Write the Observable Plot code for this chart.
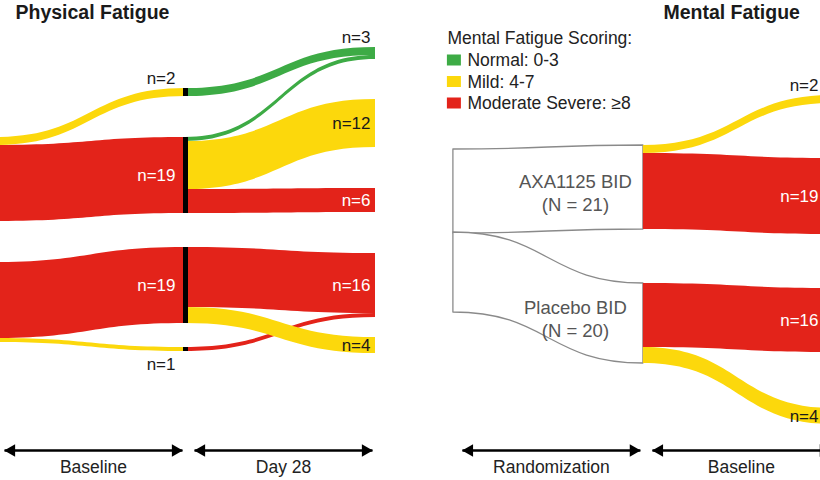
<!DOCTYPE html>
<html>
<head>
<meta charset="utf-8">
<script src="https://cdn.jsdelivr.net/npm/d3@7"></script>
<script src="https://cdn.jsdelivr.net/npm/@observablehq/plot@0.6"></script>
<style>
  body { margin: 0; background: #fff; }
  #chart svg { display: block; }
</style>
</head>
<body>
<div id="chart"></div>
<script>
// ---------------- data ----------------
const panels = ["Physical Fatigue", "Mental Fatigue"];
const stages = ["Randomization", "Baseline", "Day 28"];
const arms = ["AXA1125 BID", "Placebo BID"];
const armN = [21, 20];
const levels = ["Normal: 0-3", "Mild: 4-7", "Moderate Severe: ≥8"];
const levelColors = ["#3dab45", "#fcd80c", "#e3231a"];
const legendTitle = "Mental Fatigue Scoring:";

// Physical fatigue: randomization -> baseline
const physBaseArm   = ["AXA1125 BID", "AXA1125 BID", "Placebo BID", "Placebo BID"];
const physBaseLevel = ["Mild: 4-7", "Moderate Severe: ≥8", "Moderate Severe: ≥8", "Mild: 4-7"];
const physBaseN     = [2, 19, 19, 1];

// Physical fatigue: baseline -> day 28
const physD28Arm  = ["AXA1125 BID", "AXA1125 BID", "AXA1125 BID", "AXA1125 BID", "Placebo BID", "Placebo BID", "Placebo BID"];
const physD28From = ["Mild: 4-7", "Moderate Severe: ≥8", "Moderate Severe: ≥8", "Moderate Severe: ≥8", "Moderate Severe: ≥8", "Mild: 4-7", "Moderate Severe: ≥8"];
const physD28To   = ["Normal: 0-3", "Normal: 0-3", "Mild: 4-7", "Moderate Severe: ≥8", "Moderate Severe: ≥8", "Moderate Severe: ≥8", "Mild: 4-7"];
const physD28N    = [2, 1, 12, 6, 15, 1, 4];

// Mental fatigue: randomization -> baseline
const mentBaseArm   = ["AXA1125 BID", "AXA1125 BID", "Placebo BID", "Placebo BID"];
const mentBaseLevel = ["Mild: 4-7", "Moderate Severe: ≥8", "Moderate Severe: ≥8", "Mild: 4-7"];
const mentBaseN     = [2, 19, 16, 4];

// visible stage spans along the bottom (panel, from, to)
const spanPanel = ["Physical Fatigue", "Physical Fatigue", "Mental Fatigue", "Mental Fatigue"];
const spanFrom  = ["Randomization", "Baseline", "Entry", "Randomization"];
const spanTo    = ["Baseline", "Day 28", "Randomization", "Baseline"];

// ---------------- layout ----------------
const PX = 190;                                   // px per stage step
const px = p => p / PX;                           // px offset -> stage units
const U = 4;                                      // px per patient on y
const py = p => p / U;
const stageIndex = {Entry: -1, Randomization: 0, Baseline: 1, "Day 28": 2};
const panelShift = {"Physical Fatigue": 0, "Mental Fatigue": 3.41};
const xOf = (panel, stage) => panelShift[panel] + stageIndex[stage];
const SEVERE = levels[2];

// top of each node, in patient units from the top of the frame
const nodeTop = new Map([
  ["Physical Fatigue|Randomization|AXA1125 BID|", 34.25],
  ["Physical Fatigue|Randomization|Placebo BID|", 65.5],
  ["Physical Fatigue|Baseline|AXA1125 BID|Mild: 4-7", 22],
  ["Physical Fatigue|Baseline|AXA1125 BID|Moderate Severe: ≥8", 34.25],
  ["Physical Fatigue|Baseline|Placebo BID|Moderate Severe: ≥8", 61.75],
  ["Physical Fatigue|Baseline|Placebo BID|Mild: 4-7", 86.75],
  ["Physical Fatigue|Day 28|AXA1125 BID|Normal: 0-3", 11.75],
  ["Physical Fatigue|Day 28|AXA1125 BID|Mild: 4-7", 24.75],
  ["Physical Fatigue|Day 28|AXA1125 BID|Moderate Severe: ≥8", 47],
  ["Physical Fatigue|Day 28|Placebo BID|Moderate Severe: ≥8", 63.25],
  ["Physical Fatigue|Day 28|Placebo BID|Mild: 4-7", 84.25],
  ["Mental Fatigue|Entry|AXA1125 BID|", 37.25],
  ["Mental Fatigue|Entry|Placebo BID|", 58],
  ["Mental Fatigue|Randomization|AXA1125 BID|", 36.25],
  ["Mental Fatigue|Randomization|Placebo BID|", 70.75],
  ["Mental Fatigue|Baseline|AXA1125 BID|Mild: 4-7", 23.75],
  ["Mental Fatigue|Baseline|AXA1125 BID|Moderate Severe: ≥8", 39.5],
  ["Mental Fatigue|Baseline|Placebo BID|Moderate Severe: ≥8", 72],
  ["Mental Fatigue|Baseline|Placebo BID|Mild: 4-7", 102]
]);
const topOf = k => nodeTop.get(k);
const boxLabelDy = [1.1, -1.4];                   // fine vertical nudge of box labels (patient units)

const flows = [];
function link(panel, arm, s0, l0, s1, l1, n, fill) {
  flows.push({panel, arm, n, fill, s0, s1,
    src: [panel, s0, arm, l0].join("|"), tgt: [panel, s1, arm, l1].join("|")});
}
arms.forEach((a, i) => link("Mental Fatigue", a, "Entry", "", "Randomization", "", armN[i], null));
physBaseN.forEach((n, i) => link("Physical Fatigue", physBaseArm[i], "Randomization", "", "Baseline", physBaseLevel[i], n, physBaseLevel[i]));
physD28N.forEach((n, i) => link("Physical Fatigue", physD28Arm[i], "Baseline", physD28From[i], "Day 28", physD28To[i], n, physD28To[i]));
mentBaseN.forEach((n, i) => link("Mental Fatigue", mentBaseArm[i], "Randomization", "", "Baseline", mentBaseLevel[i], n, mentBaseLevel[i]));

// stack flows inside their source and target nodes
for (const [key, g] of d3.group(flows, f => f.src)) {
  let y = topOf(key);
  for (const f of [...g].sort((a, b) => topOf(a.tgt) - topOf(b.tgt))) { f.sy = y; y += f.n; }
}
for (const [key, g] of d3.group(flows, f => f.tgt)) {
  let y = topOf(key);
  for (const f of [...g].sort((a, b) => topOf(a.src) - topOf(b.src))) { f.ty = y; y += f.n; }
}

const pts = flows.flatMap((f, i) => [
  {id: i, box: f.fill == null, level: f.fill, x: xOf(f.panel, f.s0), y1: f.sy, y2: f.sy + f.n},
  {id: i, box: f.fill == null, level: f.fill, x: xOf(f.panel, f.s1), y1: f.ty, y2: f.ty + f.n}
]);
const boxPts = pts.filter(d => d.box);
const flowPts = pts.filter(d => !d.box);

// level nodes (targets)
const nodes = Array.from(d3.rollup(flows.filter(f => f.fill), v => ({
  panel: v[0].panel, stage: v[0].s1, arm: v[0].arm, level: v[0].fill,
  n: d3.sum(v, f => f.n), top: topOf(v[0].tgt)
}), f => f.tgt).values());
for (const nd of nodes) {
  const same = nodes.filter(o => o.panel === nd.panel && o.stage === nd.stage && o.arm === nd.arm);
  const isTop = nd.top === d3.min(same, o => o.top);
  nd.pos = nd.n >= 4 ? "in" : isTop ? "above" : "below";
  nd.x = xOf(nd.panel, nd.stage);
  // labels at the cropped right edge are pulled in so they stay readable
  nd.lx = Math.min(nd.x - px(nd.stage === "Baseline" ? 10 : 5), 1 + 633 / PX);
  nd.label = `n=${nd.n}`;
}

// randomization boxes (mental panel)
const boxLabels = arms.map((a, i) => {
  const k = `Mental Fatigue|Randomization|${a}|`;
  return {text: `${a}\n(N = ${armN[i]})`, x: xOf("Mental Fatigue", "Randomization") - px(68),
          y: topOf(k) + armN[i] / 2 + boxLabelDy[i]};
});

// titles and legend
const titles = panels.map(p => ({text: p, x: xOf(p, "Randomization") + px(20), y: py(12)}));
const mRand = xOf("Mental Fatigue", "Randomization");
const legendHead = [{text: legendTitle, x: mRand - px(196), y: py(38)}];
const legendRows = levels.map((l, i) => ({
  level: l, x1: mRand - px(196), x2: mRand - px(182), tx: mRand - px(176), yc: py(60 + 21.5 * i)
}));

// bottom stage arrows
const spans = spanPanel.map((p, i) => ({
  label: spanTo[i], x1: xOf(p, spanFrom[i]) + px(9), x2: xOf(p, spanTo[i]) - px(3), y: py(450), ly: py(467)
}));
spans.forEach(s => s.xm = (s.x1 + s.x2) / 2);

const FONT = "Liberation Sans, Arial, Helvetica, sans-serif";

const chart = Plot.plot({
  width: 820,
  height: 480,
  margin: 0,
  style: {fontFamily: FONT, background: "white"},
  x: {axis: null, domain: [1 - 185 / PX, 1 + 635 / PX], range: [0, 820]},
  y: {axis: null, domain: [0, 120], range: [0, 480]},
  color: {domain: levels, range: levelColors},
  marks: [
    Plot.area(boxPts, {x1: "x", y1: "y1", y2: "y2", z: "id", fill: "white", stroke: "#8a8a8a", strokeWidth: 1.3, curve: "bump-x", clip: true}),
    Plot.area(flowPts, {x1: "x", y1: "y1", y2: "y2", z: "id", fill: "level", curve: "bump-x", clip: true}),
    Plot.ruleX(nodes.filter(d => d.stage === "Baseline" && d.panel === "Physical Fatigue"),
      {x: "x", y1: "top", y2: d => d.top + d.n, stroke: "black", strokeWidth: 5, clip: true}),
    Plot.text(nodes.filter(d => d.pos === "in"), {x: "lx", y: d => d.top + d.n / 2, text: "label", textAnchor: "end",
      fill: d => d.level === SEVERE ? "white" : "#1a1a1a", fontSize: 17}),
    Plot.text(nodes.filter(d => d.pos === "above"), {x: "lx", y: "top", text: "label", textAnchor: "end",
      lineAnchor: "bottom", dy: -5, fill: "#1a1a1a", fontSize: 17}),
    Plot.text(nodes.filter(d => d.pos === "below"), {x: "lx", y: d => d.top + d.n, text: "label", textAnchor: "end",
      lineAnchor: "top", dy: 6, fill: "#1a1a1a", fontSize: 17}),
    Plot.text(boxLabels, {x: "x", y: "y", text: "text", textAnchor: "middle", fill: "#555", fontSize: 18.5, lineHeight: 1.25}),
    Plot.text(titles, {x: "x", y: "y", text: "text", textAnchor: "start", fontWeight: "bold", fontSize: 19.5, fill: "#1a1a1a"}),
    Plot.text(legendHead, {x: "x", y: "y", text: "text", textAnchor: "start", fontSize: 17.5, fill: "#222"}),
    Plot.rect(legendRows, {x1: "x1", x2: "x2", y1: d => d.yc - py(5.5), y2: d => d.yc + py(5.5), fill: "level"}),
    Plot.text(legendRows, {x: "tx", y: "yc", text: "level", textAnchor: "start", fontSize: 17.5, fill: "#222"}),
    Plot.link(spans, {x1: "x1", x2: "x2", y1: "y", y2: "y", stroke: "black", strokeWidth: 2.5, clip: true}),
    Plot.dot(spans, {x: "x1", y: "y", symbol: "triangle", r: 4.7, fill: "black", rotate: -90, dx: 7, clip: true}),
    Plot.dot(spans, {x: "x2", y: "y", symbol: "triangle", r: 4.7, fill: "black", rotate: 90, dx: -7, clip: true}),
    Plot.text(spans, {x: "xm", y: "ly", text: "label", textAnchor: "middle", fontSize: 17.5, fill: "#222"})
  ]
});
document.getElementById("chart").append(chart);
</script>
</body>
</html>
